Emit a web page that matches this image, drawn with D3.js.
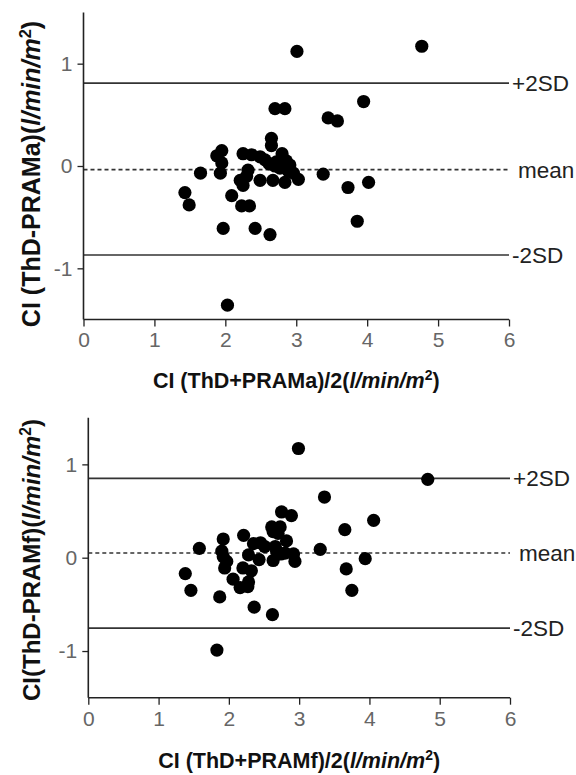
<!DOCTYPE html>
<html>
<head>
<meta charset="utf-8">
<script src="https://cdn.jsdelivr.net/npm/d3@7"></script>
<style>
  body { margin: 0; background: #fff; }
  svg { display: block; font-family: Arial, "Liberation Sans", sans-serif; }
</style>
</head>
<body>
<script>
// Bland-Altman data: [mean CI, difference CI]
var topPoints = [
    [4.77, 1.17], [3.01, 1.12], [3.95, 0.63], [2.70, 0.56], [2.84, 0.56],
    [3.45, 0.47], [3.58, 0.44], [2.65, 0.27], [2.65, 0.20], [1.95, 0.15],
    [1.88, 0.10], [2.25, 0.12], [2.37, 0.11], [2.49, 0.09], [2.56, 0.06],
    [2.80, 0.12], [2.72, 0.04], [2.86, 0.05], [1.95, 0.03], [2.77, -0.02],
    [2.91, 0.01], [2.89, -0.05], [2.96, -0.07], [1.93, -0.07], [1.65, -0.07],
    [2.32, -0.04], [2.30, -0.10], [2.21, -0.14], [2.25, -0.19], [2.49, -0.14],
    [2.67, -0.14], [2.84, -0.16], [3.03, -0.13], [3.38, -0.08], [4.02, -0.16],
    [3.73, -0.21], [1.43, -0.26], [2.09, -0.29], [1.49, -0.38], [2.23, -0.39],
    [2.34, -0.39], [3.86, -0.54], [1.97, -0.61], [2.42, -0.61], [2.63, -0.67],
    [2.03, -1.36], [2.70, 0.00], [2.62, 0.02]
];
var bottomPoints = [
    [2.99, 1.17], [4.83, 0.84], [3.36, 0.65], [2.75, 0.49], [2.89, 0.45],
    [4.06, 0.40], [2.61, 0.33], [2.73, 0.33], [2.63, 0.28], [2.70, 0.26],
    [3.65, 0.30], [2.82, 0.18], [2.21, 0.24], [1.92, 0.20], [1.58, 0.10],
    [2.35, 0.15], [2.45, 0.16], [2.51, 0.12], [2.66, 0.12], [2.68, 0.07],
    [3.30, 0.09], [1.90, 0.07], [1.92, 0.01], [1.97, -0.04], [2.28, 0.03],
    [1.94, -0.11], [2.43, -0.02], [2.63, -0.03], [2.92, 0.04], [2.94, -0.04],
    [2.74, 0.04], [2.20, -0.11], [2.32, -0.14], [3.94, -0.01], [3.67, -0.12],
    [1.38, -0.17], [1.46, -0.35], [2.06, -0.23], [2.16, -0.32], [2.28, -0.26],
    [2.27, -0.31], [3.75, -0.35], [1.87, -0.42], [2.36, -0.53], [2.62, -0.61],
    [1.83, -0.99], [2.80, 0.05]
];

// limits of agreement: +2SD, mean, -2SD
var topLimits = [0.81, -0.035, -0.87];
var bottomLimits = [0.85, 0.05, -0.755];
var limitLabels = ["+2SD", "mean", "-2SD"];

var xTicks = [0, 1, 2, 3, 4, 5, 6];
var yTicks = [-1, 0, 1];

var W = 576, H = 775;

var svg = d3.select("body").append("svg")
    .attr("width", W)
    .attr("height", H);

function drawPanel(cfg)
{
    var x = d3.scaleLinear().domain([0, 6]).range([cfg.left, cfg.right]);
    var y = d3.scaleLinear().domain([-1.5, 1.5]).range([cfg.bottom, cfg.top]);

    var g = svg.append("g");

    // limit lines, drawn first so the dots sit on top
    g.selectAll("line.limit")
      .data(cfg.limits)
      .enter().append("line")
      .attr("class", "limit")
      .attr("x1", x(0)).attr("x2", x(6))
      .attr("y1", function(d) { return y(d); })
      .attr("y2", function(d) { return y(d); })
      .attr("stroke", "#333")
      .attr("stroke-width", 1.6)
      .attr("stroke-dasharray", function(d, i) { return i == 1 ? "4,3" : null; });

    g.selectAll("text.limit")
      .data(cfg.limits)
      .enter().append("text")
      .attr("class", "limit")
      .attr("x", function(d, i) { return x(6) + (i == 1 ? 9 : 3); })
      .attr("y", function(d) { return y(d) + 8; })
      .attr("font-size", 22.5)
      .attr("fill", "#222")
      .text(function(d, i) { return limitLabels[i]; });

    // axes (hyphen minus like the original, not the unicode minus)
    var fmt = function(d) { return String(d); };

    var xAxis = g.append("g")
      .attr("transform", "translate(0," + y(-1.5) + ")")
      .call(d3.axisBottom(x).tickValues(xTicks).tickSize(7).tickPadding(6).tickFormat(fmt));

    var yAxis = g.append("g")
      .attr("transform", "translate(" + x(0) + ",0)")
      .call(d3.axisLeft(y).tickValues(yTicks).tickSize(6).tickPadding(5).tickFormat(fmt));

    [xAxis, yAxis].forEach(function(a) {
        a.select(".domain").attr("stroke", "#222").attr("stroke-width", 1.6);
        a.selectAll(".tick line").attr("stroke", "#222").attr("stroke-width", 1.3);
        a.selectAll(".tick text")
          .attr("font-size", 21)
          .attr("font-family", "Arial, 'Liberation Sans', sans-serif")
          .attr("fill", "#666");
    });
    // plain line on the axis ends, no outer ticks
    xAxis.select(".domain").attr("d", "M" + x(0) + ",0H" + x(6));
    yAxis.select(".domain").attr("d", "M0," + y(1.5) + "V" + y(-1.5));

    // dots
    g.selectAll("circle")
      .data(cfg.points)
      .enter().append("circle")
      .attr("cx", function(d) { return x(d[0]); })
      .attr("cy", function(d) { return y(d[1]); })
      .attr("r", 6.6)
      .attr("fill", "#000");

    // x title
    var xt = g.append("text")
      .attr("x", (x(0) + x(6)) / 2)
      .attr("y", cfg.xTitleY)
      .attr("text-anchor", "middle")
      .attr("font-size", 21.5)
      .attr("font-weight", "bold")
      .attr("fill", "#111");
    addTitle(xt, cfg.xTitle);

    // y title
    var yt = g.append("text")
      .attr("transform", "translate(" + cfg.yTitleX + "," + cfg.yTitleMid + ")rotate(-90)")
      .attr("text-anchor", "middle")
      .attr("font-size", cfg.yTitleSize)
      .attr("font-weight", "bold")
      .attr("fill", "#111");
    addTitle(yt, cfg.yTitle);
}

function addTitle(t, lead)
{
    t.append("tspan").text(lead);
    t.append("tspan").attr("font-style", "italic").text("l/min/m");
    t.append("tspan").attr("font-size", "0.65em").attr("dy", "-0.55em").text("2");
    t.append("tspan").attr("dy", "0.36em").text(")");
}

drawPanel({
    points: topPoints,
    limits: topLimits,
    left: 83.5, right: 509, top: 12.5, bottom: 319.5,
    xTitle: "CI (ThD+PRAMa)/2(",
    xTitleY: 388,
    yTitle: "CI (ThD-PRAMa)(",
    yTitleX: 40, yTitleMid: 174, yTitleSize: 25
});

drawPanel({
    points: bottomPoints,
    limits: bottomLimits,
    left: 88.3, right: 510, top: 417.7, bottom: 697.7,
    xTitle: "CI (ThD+PRAMf)/2(",
    xTitleY: 768,
    yTitle: "CI(ThD-PRAMf)(",
    yTitleX: 40, yTitleMid: 560, yTitleSize: 24
});
</script>
</body>
</html>
